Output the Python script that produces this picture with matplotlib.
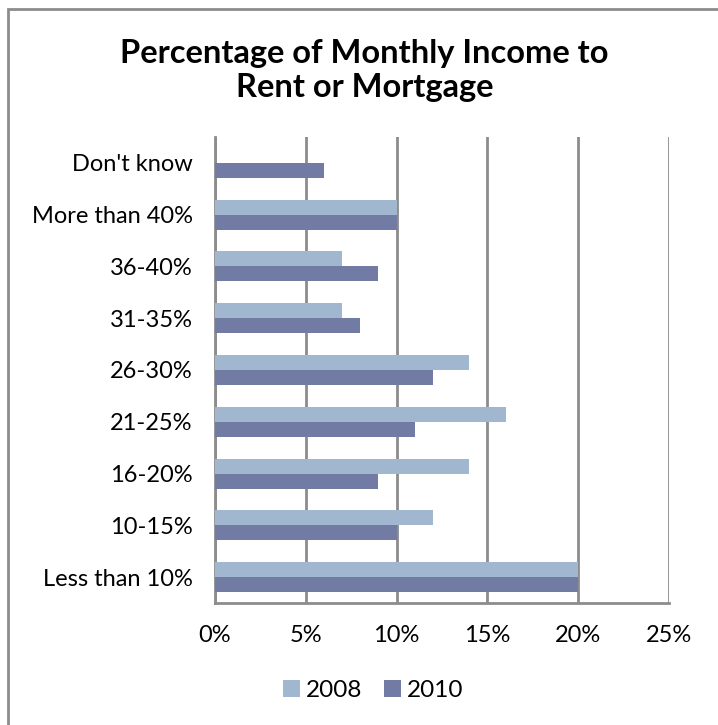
import matplotlib
matplotlib.use("Agg")
import matplotlib.pyplot as plt
import numpy as np
from matplotlib.patches import Rectangle, Patch

plt.rcParams['font.family'] = ['Lato', 'DejaVu Sans']

# income share categories, listed bottom to top
categories = ["Less than 10%", "10-15%", "16-20%", "21-25%", "26-30%",
              "31-35%", "36-40%", "More than 40%", "Don't know"]
pct_2008 = [20, 12, 14, 16, 14, 7, 7, 10, 0]
pct_2010 = [20, 10, 9, 11, 12, 8, 9, 10, 6]
years = ["2008", "2010"]
xticks = [0, 5, 10, 15, 20, 25]

c2008 = "#a0b7cf"
c2010 = "#717ba3"

fig = plt.figure(figsize=(7.18, 7.25), dpi=100)

# outer chart frame
fig.patches.append(Rectangle((8 / 718, -0.05), 1.0, 1 - 9 / 725 + 0.05,
                             transform=fig.transFigure, fill=False,
                             edgecolor="#8c8c8c", linewidth=2))

ax = fig.add_axes([215 / 718, 122 / 725, 454 / 718, 466 / 725])

y = np.arange(len(categories))
h = 0.29
ax.barh(y + h / 2, pct_2008, height=h, color=c2008, edgecolor="none",
        label=years[0], zorder=3)
ax.barh(y - h / 2, pct_2010, height=h, color=c2010, edgecolor="none",
        label=years[1], zorder=3)

ax.set_xlim(0, 25)
ax.set_ylim(-0.5, len(categories) - 0.5)
ax.set_xticks(xticks)
ax.set_xticklabels([f"{t}%" for t in xticks])
ax.set_yticks(y)
ax.set_yticklabels(categories)
ax.tick_params(axis="both", length=0, labelsize=17, colors="black")
ax.tick_params(axis="y", pad=16)
ax.tick_params(axis="x", pad=16)

ax.grid(axis="x", color="#8c8c8c", linewidth=2, zorder=0)
for s in ["top", "right"]:
    ax.spines[s].set_visible(False)
for s in ["left", "bottom"]:
    ax.spines[s].set_color("#8c8c8c")
    ax.spines[s].set_linewidth(2)

fig.text(0.508, 0.903, "Percentage of Monthly Income to\nRent or Mortgage",
         ha="center", va="center", fontsize=23.5, fontweight="bold",
         linespacing=1.2)

handles = [Patch(facecolor=c2008), Patch(facecolor=c2010)]
fig.legend(handles, years, loc="center", bbox_to_anchor=(0.52, 0.047),
           ncol=2, frameon=False, fontsize=17.5, handlelength=0.7,
           handleheight=0.7, handletextpad=0.25, columnspacing=0.9)

fig.savefig("out.png", dpi=100)
